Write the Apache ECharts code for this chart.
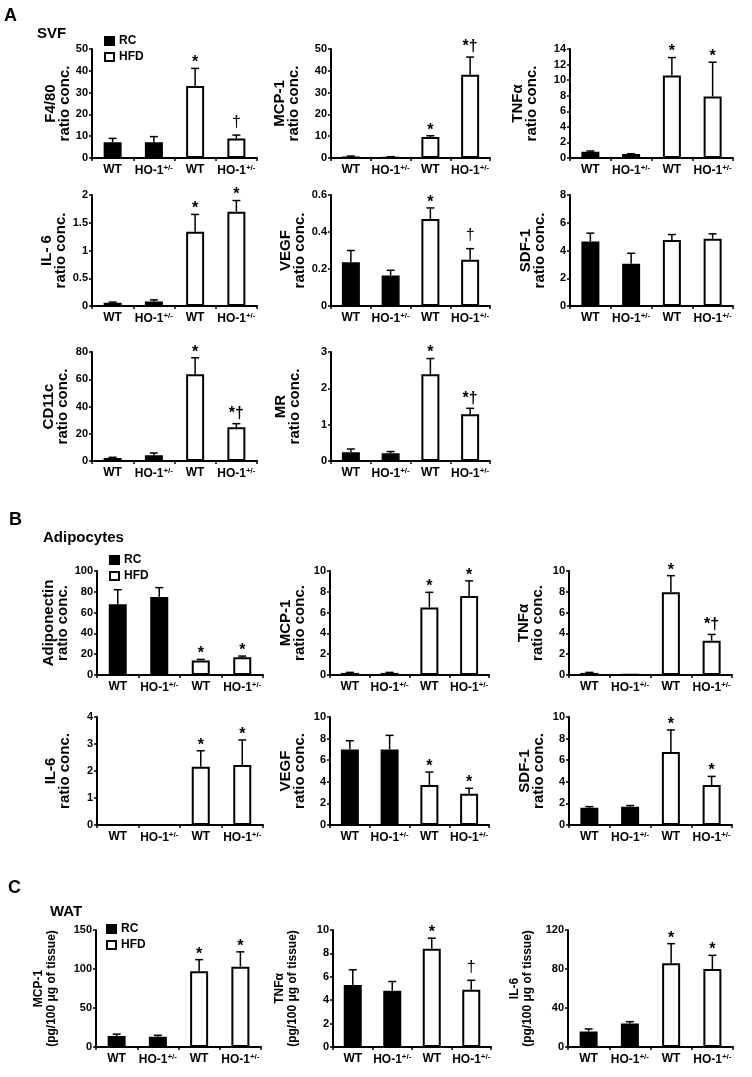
<!DOCTYPE html>
<html>
<head>
<meta charset="utf-8">
<script src="https://cdn.jsdelivr.net/npm/echarts@6/dist/echarts.min.js"></script>
<style>
html,body{margin:0;padding:0;background:#fff;}
#chart{width:752px;height:1077px;}
</style>
</head>
<body>
<div id="chart"></div>
<script>
// ---------- data ----------
const categories = ['WT', 'HO-1+/-', 'WT', 'HO-1+/-'];
const legendNames = ['RC', 'HFD'];

// A: SVF
const svfF480Mean = [7.2, 7.2, 33, 9];
const svfF480Sem = [1.8, 2.6, 8.1, 1.5];
const svfF480Marks = ['', '', '*', '†'];
const svfMcp1Mean = [0.7, 0.5, 9.6, 38.2];
const svfMcp1Sem = [0.2, 0.1, 0.6, 8.1];
const svfMcp1Marks = ['', '', '*', '*†'];
const svfTnfMean = [0.8, 0.5, 10.6, 7.9];
const svfTnfSem = [0.1, 0.05, 2.3, 4.4];
const svfTnfMarks = ['', '', '*', '*'];
const svfIl6Mean = [0.06, 0.08, 1.34, 1.70];
const svfIl6Sem = [0.01, 0.03, 0.31, 0.2];
const svfIl6Marks = ['', '', '*', '*'];
const svfVegfMean = [0.236, 0.165, 0.47, 0.25];
const svfVegfSem = [0.064, 0.028, 0.06, 0.06];
const svfVegfMarks = ['', '', '*', '†'];
const svfSdfMean = [4.65, 3.05, 4.75, 4.85];
const svfSdfSem = [0.6, 0.75, 0.4, 0.35];
const svfSdfMarks = ['', '', '', ''];
const svfCd11cMean = [2.2, 4.2, 63.6, 24.7];
const svfCd11cSem = [0.5, 1.7, 12.2, 2.7];
const svfCd11cMarks = ['', '', '*', '*†'];
const svfMrMean = [0.24, 0.21, 2.39, 1.29];
const svfMrSem = [0.09, 0.05, 0.43, 0.16];
const svfMrMarks = ['', '', '*', '*†'];

// B: Adipocytes
const adiAdipoMean = [68, 75, 14, 17];
const adiAdipoSem = [14, 9, 1, 1.2];
const adiAdipoMarks = ['', '', '*', '*'];
const adiMcp1Mean = [0.2, 0.2, 6.5, 7.6];
const adiMcp1Sem = [0.05, 0.05, 1.45, 1.45];
const adiMcp1Marks = ['', '', '*', '*'];
const adiTnfMean = [0.2, 0.1, 7.95, 3.3];
const adiTnfSem = [0.05, 0, 1.6, 0.6];
const adiTnfMarks = ['', '', '*', '*†'];
const adiIl6Mean = [0, 0, 2.16, 2.22];
const adiIl6Sem = [0, 0, 0.59, 0.93];
const adiIl6Marks = ['', '', '*', '*'];
const adiVegfMean = [7.0, 7.0, 3.7, 2.9];
const adiVegfSem = [0.8, 1.3, 1.2, 0.5];
const adiVegfMarks = ['', '', '*', '*'];
const adiSdfMean = [1.6, 1.7, 6.75, 3.7];
const adiSdfSem = [0.1, 0.1, 2.05, 0.8];
const adiSdfMarks = ['', '', '*', '*'];

// C: WAT
const watMcp1Mean = [14, 13, 97, 103];
const watMcp1Sem = [2.5, 2, 15, 19];
const watMcp1Marks = ['', '', '*', '*'];
const watTnfMean = [5.3, 4.8, 8.4, 4.9];
const watTnfSem = [1.3, 0.8, 0.9, 0.8];
const watTnfMarks = ['', '', '*', '†'];
const watIl6Mean = [16, 24, 86, 80];
const watIl6Sem = [2.5, 2, 20, 14];
const watIl6Marks = ['', '', '*', '*'];

// y-axis scales (max, tick step)
const axF480 = [50, 10], axMcp1A = [50, 10], axTnfA = [14, 2];
const axIl6A = [2, 0.5], axVegfA = [0.6, 0.2], axSdfA = [8, 2];
const axCd11c = [80, 20], axMr = [3, 1];
const axAdipo = [100, 20], axMcp1B = [10, 2], axTnfB = [10, 2];
const axIl6B = [4, 1], axVegfB = [10, 2], axSdfB = [10, 2];
const axMcp1C = [150, 50], axTnfC = [10, 2], axIl6C = [120, 40];

// ---------- layout ----------
const FONT = 'Liberation Sans, Arial, sans-serif';
const panels = [
  {name: 'F4/80\nratio conc.', mean: svfF480Mean, sem: svfF480Sem, marks: svfF480Marks, ax: axF480, g: [92, 49, 165, 109], gap: 20},
  {name: 'MCP-1\nratio conc.', mean: svfMcp1Mean, sem: svfMcp1Sem, marks: svfMcp1Marks, ax: axMcp1A, g: [331, 49, 159, 109], gap: 30},
  {name: 'TNFα\nratio conc.', mean: svfTnfMean, sem: svfTnfSem, marks: svfTnfMarks, ax: axTnfA, g: [570, 49, 163, 109], gap: 31},
  {name: 'IL- 6\nratio conc.', mean: svfIl6Mean, sem: svfIl6Sem, marks: svfIl6Marks, ax: axIl6A, g: [92, 195, 165, 111], gap: 22},
  {name: 'VEGF\nratio conc.', mean: svfVegfMean, sem: svfVegfSem, marks: svfVegfMarks, ax: axVegfA, g: [331, 195, 159, 111], gap: 24},
  {name: 'SDF-1\nratio conc.', mean: svfSdfMean, sem: svfSdfSem, marks: svfSdfMarks, ax: axSdfA, g: [570, 195, 163, 111], gap: 23},
  {name: 'CD11c\nratio conc.', mean: svfCd11cMean, sem: svfCd11cSem, marks: svfCd11cMarks, ax: axCd11c, g: [92, 352, 165, 109], gap: 22},
  {name: 'MR\nratio conc.', mean: svfMrMean, sem: svfMrSem, marks: svfMrMarks, ax: axMr, g: [331, 352, 159, 109], gap: 29},

  {name: 'Adiponectin\nratio conc.', mean: adiAdipoMean, sem: adiAdipoSem, marks: adiAdipoMarks, ax: axAdipo, g: [97, 571, 166, 104], gap: 16},
  {name: 'MCP-1\nratio conc.', mean: adiMcp1Mean, sem: adiMcp1Sem, marks: adiMcp1Marks, ax: axMcp1B, g: [330, 571, 159, 104], gap: 23},
  {name: 'TNFα\nratio conc.', mean: adiTnfMean, sem: adiTnfSem, marks: adiTnfMarks, ax: axTnfB, g: [569, 571, 163, 104], gap: 24},
  {name: 'IL-6\nratio conc.', mean: adiIl6Mean, sem: adiIl6Sem, marks: adiIl6Marks, ax: axIl6B, g: [97, 717, 166, 108], gap: 25},
  {name: 'VEGF\nratio conc.', mean: adiVegfMean, sem: adiVegfSem, marks: adiVegfMarks, ax: axVegfB, g: [330, 717, 159, 108], gap: 23},
  {name: 'SDF-1\nratio conc.', mean: adiSdfMean, sem: adiSdfSem, marks: adiSdfMarks, ax: axSdfB, g: [569, 717, 163, 108], gap: 23},

  {name: 'MCP-1\n(pg/100 μg of tissue)', mean: watMcp1Mean, sem: watMcp1Sem, marks: watMcp1Marks, ax: axMcp1C, g: [96, 930, 165, 117], gap: 38, small: true},
  {name: 'TNFα\n(pg/100 μg of tissue)', mean: watTnfMean, sem: watTnfSem, marks: watTnfMarks, ax: axTnfC, g: [333, 930, 158, 117], gap: 34, small: true},
  {name: 'IL-6\n(pg/100 μg of tissue)', mean: watIl6Mean, sem: watIl6Sem, marks: watIl6Marks, ax: axIl6C, g: [568, 930, 165, 117], gap: 34, small: true}
];

const grids = [], xAxes = [], yAxes = [], series = [];

panels.forEach(function (p, i) {
  grids.push({left: p.g[0], top: p.g[1], width: p.g[2], height: p.g[3], containLabel: false});
  xAxes.push({
    type: 'category', gridIndex: i, data: categories,
    axisLine: {lineStyle: {color: '#000', width: 2}},
    axisTick: {show: true, length: 3, alignWithLabel: false, lineStyle: {color: '#000', width: 1.5}},
    axisLabel: {
      interval: 0, margin: 6, color: '#000', fontFamily: FONT, fontWeight: 'bold', fontSize: 12,
      formatter: function (v) { return v.replace('+/-', '{sup|+/-}'); },
      rich: {sup: {fontSize: 8, fontWeight: 'bold', fontFamily: FONT, color: '#000', verticalAlign: 'top', padding: [0, 0, 6, 0]}}
    }
  });
  yAxes.push({
    type: 'value', gridIndex: i, min: 0, max: p.ax[0], interval: p.ax[1],
    name: p.name, nameLocation: 'middle', nameRotate: 90, nameGap: p.gap,
    nameTextStyle: {fontFamily: FONT, fontWeight: 'bold', fontSize: p.small ? 12 : 15, lineHeight: p.small ? 13 : 14, color: '#000'},
    axisLine: {show: true, lineStyle: {color: '#000', width: 2}},
    axisTick: {show: true, length: 3, lineStyle: {color: '#000', width: 1.5}},
    axisLabel: {margin: 4, color: '#000', fontFamily: FONT, fontWeight: 'bold', fontSize: 11},
    splitLine: {show: false}
  });
  series.push({
    type: 'bar', name: 'RC', xAxisIndex: i, yAxisIndex: i, barWidth: 18, barGap: '-100%',
    data: p.mean.map(function (v, k) { return k < 2 ? v : '-'; }),
    itemStyle: {color: '#000', borderColor: '#000', borderWidth: 1.5},
    animation: false
  });
  series.push({
    type: 'bar', name: 'HFD', xAxisIndex: i, yAxisIndex: i, barWidth: 18, barGap: '-100%',
    data: p.mean.map(function (v, k) { return k >= 2 ? v : '-'; }),
    itemStyle: {color: '#fff', borderColor: '#000', borderWidth: 2},
    animation: false
  });
  const marks = p.marks;
  series.push({
    type: 'custom', name: 'err' + i, xAxisIndex: i, yAxisIndex: i, z: 5, clip: false,
    data: p.mean.map(function (v, k) { return [k, v, v + p.sem[k]]; }),
    renderItem: function (params, api) {
      const idx = api.value(0), mean = api.value(1), top = api.value(2);
      const base = api.coord([idx, mean]);
      const tip = api.coord([idx, top]);
      const children = [];
      if (top > mean) {
        children.push({type: 'line', shape: {x1: base[0], y1: base[1], x2: tip[0], y2: tip[1]}, style: {stroke: '#000', lineWidth: 1.5}});
        children.push({type: 'line', shape: {x1: tip[0] - 4, y1: tip[1], x2: tip[0] + 4, y2: tip[1]}, style: {stroke: '#000', lineWidth: 1.5}});
      }
      const m = marks[params.dataIndex];
      if (m) {
        const off = m === '*' ? 5.5 : (m === '†' ? 13 : 10);
        children.push({type: 'text', x: tip[0], y: tip[1] - off,
          style: {text: m, fill: '#000', fontFamily: FONT, fontSize: 16, fontWeight: m === '†' ? 'normal' : 'bold', align: 'center', verticalAlign: 'middle'}});
      }
      return {type: 'group', children: children};
    },
    animation: false
  });
});

function legendAt(left, top) {
  return {
    left: left, top: top, orient: 'vertical', data: legendNames, icon: 'rect',
    itemWidth: 9, itemHeight: 8, itemGap: 4, selectedMode: false,
    textStyle: {fontFamily: FONT, fontWeight: 'bold', fontSize: 12, color: '#000'},
    padding: 0
  };
}

function heading(text, left, top, size) {
  return {type: 'text', left: left, top: top,
    style: {text: text, fill: '#000', font: 'bold ' + size + 'px ' + FONT}};
}

const option = {
  backgroundColor: '#fff',
  animation: false,
  grid: grids,
  xAxis: xAxes,
  yAxis: yAxes,
  series: series,
  legend: [legendAt(104, 35), legendAt(109, 554), legendAt(106, 923)],
  graphic: [
    heading('A', 4, 7, 18), heading('SVF', 37, 26, 15),
    heading('B', 9, 511, 18), heading('Adipocytes', 43, 530, 15),
    heading('C', 8, 879, 18), heading('WAT', 50, 904, 15)
  ]
};

const chart = echarts.init(document.getElementById('chart'), null, {renderer: 'canvas'});
chart.setOption(option);
</script>
</body>
</html>
